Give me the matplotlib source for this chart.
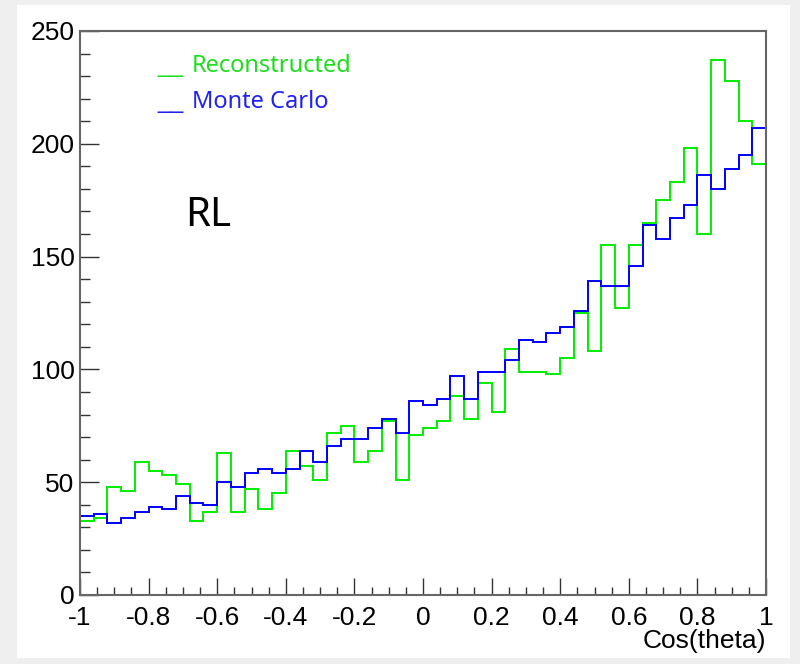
import numpy as np
import matplotlib
matplotlib.use("Agg")
import matplotlib.pyplot as plt
from matplotlib.patches import Rectangle

# ---- data ----
bin_edges = np.linspace(-1.0, 1.0, 51)
reconstructed = [33, 34, 48, 46, 59, 55, 53, 49, 33, 37,
                 63, 37, 47, 38, 45, 64, 57, 51, 72, 75,
                 59, 64, 77, 51, 71, 74, 77, 88, 78, 94,
                 81, 109, 99, 99, 98, 105, 125, 108, 155, 127,
                 155, 165, 175, 183, 198, 160, 237, 228, 210, 191]
monte_carlo = [35, 36, 32, 34, 37, 39, 38, 44, 41, 40,
               50, 48, 54, 56, 54, 56, 64, 59, 66, 69,
               69, 74, 78, 72, 86, 84, 87, 97, 87, 99,
               99, 104, 113, 112, 116, 119, 126, 139, 137, 137,
               146, 164, 158, 167, 173, 186, 180, 189, 195, 207]
series_labels = ["Reconstructed", "Monte Carlo"]
x_ticks = [-1, -0.8, -0.6, -0.4, -0.2, 0, 0.2, 0.4, 0.6, 0.8, 1]
x_tick_labels = ["-1", "-0.8", "-0.6", "-0.4", "-0.2", "0", "0.2", "0.4", "0.6", "0.8", "1"]
y_ticks = [0, 50, 100, 150, 200, 250]
x_title = "Cos(theta)"
panel_label = "RL"

W, H = 800, 664
fig = plt.figure(figsize=(W / 100, H / 100), dpi=100)
fig.patch.set_facecolor("#efefef")
bg = Rectangle((17 / W, 1 - 658 / H), (790 - 17) / W, (658 - 5) / H,
               transform=fig.transFigure, facecolor="white",
               edgecolor="none", zorder=-10)
fig.patches.append(bg)

left, right, top, bottom = 80, 766, 31, 595
ax = fig.add_axes([left / W, 1 - bottom / H, (right - left) / W, (bottom - top) / H])
ax.set_zorder(5)
ax.set_facecolor("white")

green = "#00ee00"
blue = "#0000ff"
ax.stairs(reconstructed, bin_edges, baseline=None, color=green, lw=1.4)
ax.stairs(monte_carlo, bin_edges, baseline=None, color=blue, lw=1.4)

ax.set_xlim(-1, 1)
ax.set_ylim(0, 250)
ax.set_xticks(x_ticks)
ax.set_xticklabels(x_tick_labels)
ax.set_yticks(y_ticks)
ax.set_xticks(np.arange(-1, 1.0001, 0.05), minor=True)
ax.set_yticks(np.arange(0, 250.1, 10), minor=True)

tick_family = ["Liberation Sans", "DejaVu Sans"]
for lab in ax.get_xticklabels() + ax.get_yticklabels():
    lab.set_fontfamily(tick_family)
    lab.set_fontsize(19)
    lab.set_color("black")

ax.tick_params(axis="both", which="both", direction="in", colors="#333333",
               labelcolor="black", top=False, right=False, width=1.0)
ax.tick_params(axis="y", which="major", length=14, pad=4)
ax.tick_params(axis="y", which="minor", length=7)
ax.tick_params(axis="x", which="major", length=12, pad=8)
ax.tick_params(axis="x", which="minor", length=6)

for s in ax.spines.values():
    s.set_color("#666666")
    s.set_linewidth(1.5)

fig.text(766 / W, 1 - 648 / H, x_title, ha="right", va="baseline",
         fontsize=19, family=tick_family, color="black", zorder=6)

leg_font = ["Noto Sans", "DejaVu Sans"]
leg_colors = ["#1fdd1f", "#2222ee"]
leg_base = [72, 108]
for lbl, col, yb in zip(series_labels, leg_colors, leg_base):
    fig.text(157 / W, 1 - yb / H, "__", ha="left", va="baseline",
             fontsize=17, family=tick_family, color=col, zorder=6)
    fig.text(192 / W, 1 - yb / H, lbl, ha="left", va="baseline",
             fontsize=17, family=leg_font, color=col, zorder=6)

fig.text(185 / W, 1 - 226 / H, panel_label, ha="left", va="baseline",
         fontsize=29, family=leg_font, color="black", zorder=6)

fig.savefig("out.png", dpi=100)
